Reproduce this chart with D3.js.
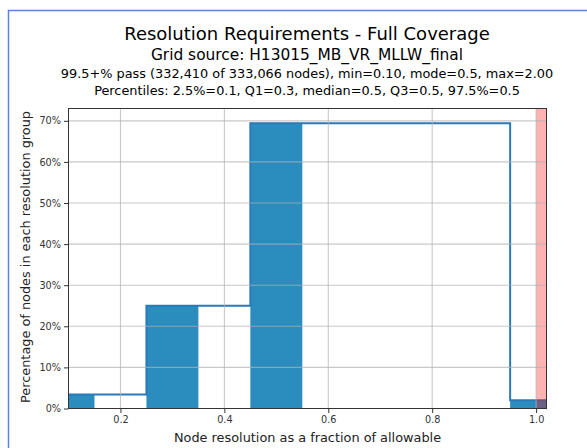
<!DOCTYPE html>
<html><head><meta charset="utf-8">
<script src="https://cdn.jsdelivr.net/npm/d3@7"></script>
<style>body{margin:0;background:#fff}svg{display:block}</style>
</head><body>
<svg id="c" width="587" height="448"></svg>
<script>
// Data
const titleLines = [
  "Resolution Requirements - Full Coverage",
  "Grid source: H13015_MB_VR_MLLW_final",
  "99.5+% pass (332,410 of 333,066 nodes), min=0.10, mode=0.5, max=2.00",
  "Percentiles: 2.5%=0.1, Q1=0.3, median=0.5, Q3=0.5, 97.5%=0.5"
];
const barCenters = [0.1, 0.3, 0.5, 1.0];
const barWidth = 0.1;
const barValues = [3.4, 25.0, 69.5, 2.0];
const stepEdges = [0.05, 0.25, 0.45, 0.95, 1.05];
const stepValues = [3.4, 25.0, 69.4, 2.0];
const failSpan = [1.0, 1.02];
const xTicks = [0.2, 0.4, 0.6, 0.8, 1.0];
const yTicks = [0, 10, 20, 30, 40, 50, 60, 70];
const xDomain = [0.1, 1.02];
const yDomain = [0, 73];

const svg = d3.select("#c");
const font = "DejaVu Sans, sans-serif";
const L = 68.5, R = 546.5, T = 108.5, B = 408.5;
const x = d3.scaleLinear().domain(xDomain).range([L, R]);
const y = d3.scaleLinear().domain(yDomain).range([B, T]);

// outer frame
svg.append("rect").attr("x", 8.5).attr("y", 10.5).attr("width", 700).attr("height", 600)
  .attr("fill", "none").attr("stroke", "#5b83d6").attr("stroke-width", 1.5);

// titles
const tSizes = [18, 15.4, 12.86, 12.86];
const tY = [40, 59.8, 77.6, 95];
titleLines.forEach((t, i) => {
  svg.append("text").attr("x", 307).attr("y", tY[i]).attr("text-anchor", "middle")
    .attr("font-family", font).attr("font-size", tSizes[i]).attr("fill", "#000").text(t);
});

svg.append("defs").append("clipPath").attr("id", "pc")
  .append("rect").attr("x", L).attr("y", T).attr("width", R - L).attr("height", B - T);
const g = svg.append("g").attr("clip-path", "url(#pc)");

// bars
g.selectAll("rect.bar").data(barCenters).join("rect").attr("class", "bar")
  .attr("x", d => x(d - barWidth / 2))
  .attr("width", d => x(d + barWidth / 2) - x(d - barWidth / 2))
  .attr("y", (d, i) => y(barValues[i]))
  .attr("height", (d, i) => y(0) - y(barValues[i]))
  .attr("fill", "#2b8cbe");

// step line
const pts = [];
stepValues.forEach((v, i) => { pts.push([stepEdges[i], v]); pts.push([stepEdges[i + 1], v]); });
g.append("path").attr("d", d3.line().x(d => x(d[0])).y(d => y(d[1]))(pts))
  .attr("fill", "none").attr("stroke", "#2a7ab9").attr("stroke-width", 2);

// fail span
g.append("rect").attr("x", x(failSpan[0])).attr("width", x(failSpan[1]) - x(failSpan[0]))
  .attr("y", T).attr("height", B - T).attr("fill", "red").attr("fill-opacity", 0.3);

// grid
g.selectAll("line.gx").data(xTicks).join("line").attr("x1", d => x(d)).attr("x2", d => x(d))
  .attr("y1", T).attr("y2", B).attr("stroke", "#b0b0b0").attr("stroke-opacity", 0.7).attr("stroke-width", 1.1);
g.selectAll("line.gy").data(yTicks).join("line").attr("y1", d => y(d)).attr("y2", d => y(d))
  .attr("x1", L).attr("x2", R).attr("stroke", "#b0b0b0").attr("stroke-opacity", 0.7).attr("stroke-width", 1.1);

// axes
const xa = svg.append("g").attr("transform", `translate(0,${B})`)
  .call(d3.axisBottom(x).tickValues(xTicks).tickFormat(d3.format(".1f")).tickSize(4.5).tickPadding(3));
const ya = svg.append("g").attr("transform", `translate(${L},0)`)
  .call(d3.axisLeft(y).tickValues(yTicks).tickFormat(d => d + "%").tickSize(4.5).tickPadding(3));
[xa, ya].forEach(a => {
  a.select(".domain").remove();
  a.selectAll("line").attr("stroke", "#333").attr("stroke-width", 1);
  a.selectAll("text").attr("font-family", font).attr("font-size", 9.7).attr("fill", "#333");
});
// frame
svg.append("rect").attr("x", L).attr("y", T).attr("width", R - L).attr("height", B - T)
  .attr("fill", "none").attr("stroke", "#333").attr("stroke-width", 1);

// axis labels
svg.append("text").attr("x", (L + R) / 2).attr("y", 442).attr("text-anchor", "middle")
  .attr("font-family", font).attr("font-size", 12.86).attr("fill", "#222")
  .text("Node resolution as a fraction of allowable");
svg.append("text").attr("transform", `translate(30,257) rotate(-90)`).attr("text-anchor", "middle")
  .attr("font-family", font).attr("font-size", 12.86).attr("fill", "#222")
  .text("Percentage of nodes in each resolution group");
</script>
</body></html>
